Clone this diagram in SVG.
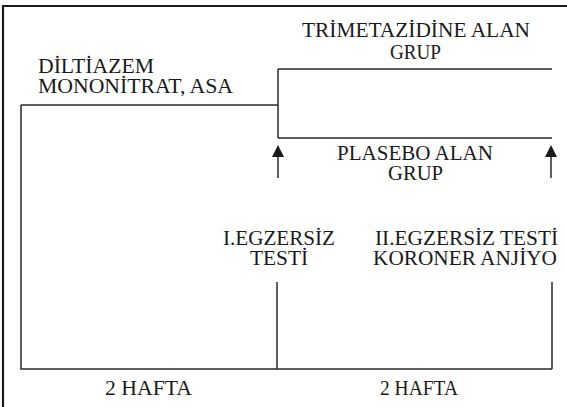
<svg xmlns="http://www.w3.org/2000/svg" width="567" height="407" viewBox="0 0 567 407">
<style>
.t{font-family:"Liberation Serif","Times New Roman",serif;font-size:20px;fill:#1a1a1a}
.c{text-anchor:middle}
.ln{stroke:#2a2a2a;stroke-width:1.5;fill:none}
.fr{stroke:#1a1a1a;stroke-width:2.2;fill:none}
.ah{fill:#1a1a1a}
</style>
<rect width="567" height="407" fill="#fff"/>
<path class="fr" d="M3,407 V6 H567"/>
<g id="connectors">
<path class="ln" d="M21,105 H278"/>
<path class="ln" d="M21,105 V369 H552"/>
<path class="ln" d="M278,69 V138"/>
<path class="ln" d="M278,69 H552"/>
<path class="ln" d="M278,138 H552"/>
<path class="ln" d="M277,282 V369"/>
<path class="ln" d="M552,282 V369"/>
<path class="ln" d="M278,155 V178"/>
<path class="ah" d="M278,145 L284,157 L272,157 Z"/>
<path class="ln" d="M551,155 V178"/>
<path class="ah" d="M551,145 L557,157 L545,157 Z"/>
</g>
<g id="diltiazem">
<text class="t" x="38" y="73" textLength="116" lengthAdjust="spacingAndGlyphs">DİLTİAZEM</text>
<text class="t" x="38" y="93" textLength="195" lengthAdjust="spacingAndGlyphs">MONONİTRAT, ASA</text>
</g>
<g id="trimetazidine">
<text class="t" x="302" y="37" textLength="228" lengthAdjust="spacingAndGlyphs">TRİMETAZİDİNE ALAN</text>
<text class="t" x="390" y="59" textLength="51" lengthAdjust="spacingAndGlyphs">GRUP</text>
</g>
<g id="plasebo">
<text class="t" x="337" y="160" textLength="156" lengthAdjust="spacingAndGlyphs">PLASEBO ALAN</text>
<text class="t" x="388" y="180" textLength="55" lengthAdjust="spacingAndGlyphs">GRUP</text>
</g>
<g id="test1">
<text class="t" x="223" y="245" textLength="112" lengthAdjust="spacingAndGlyphs">I.EGZERSİZ</text>
<text class="t" x="250" y="265" textLength="58" lengthAdjust="spacingAndGlyphs">TESTİ</text>
</g>
<g id="test2">
<text class="t" x="375" y="245" textLength="183" lengthAdjust="spacingAndGlyphs">II.EGZERSİZ TESTİ</text>
<text class="t" x="373" y="265" textLength="184" lengthAdjust="spacingAndGlyphs">KORONER ANJİYO</text>
</g>
<g id="hafta1">
<text class="t" x="105" y="395" textLength="87" lengthAdjust="spacingAndGlyphs">2 HAFTA</text>
</g>
<g id="hafta2">
<text class="t" x="380" y="395" textLength="78" lengthAdjust="spacingAndGlyphs">2 HAFTA</text>
</g>
</svg>
